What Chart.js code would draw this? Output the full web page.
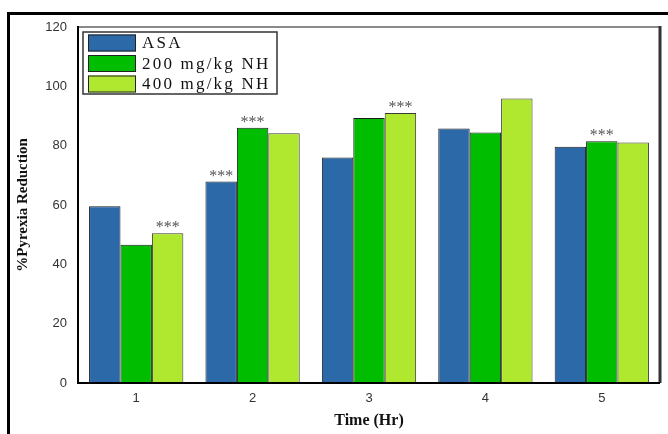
<!DOCTYPE html>
<html>
<head>
<meta charset="utf-8">
<script src="https://cdn.jsdelivr.net/npm/chart.js@4.4.0/dist/chart.umd.min.js"></script>
<style>
  html, body { margin: 0; padding: 0; background: #fff; }
  #wrap { width: 668px; height: 434px; }
</style>
</head>
<body>
<div id="wrap"><canvas id="pyrexiaChart" width="668" height="434"></canvas></div>
<script>
// datos
const timeLabels = ['1', '2', '3', '4', '5'];
const asaValues = [59.6, 67.9, 76.0, 85.8, 79.6];
const nh200Values = [46.6, 86.0, 89.3, 84.4, 81.5];
const nh400Values = [50.5, 84.2, 91.0, 95.9, 81.1];
// marcas de significancia (***)
const asaStars = [false, true, false, false, false];
const nh200Stars = [false, true, false, false, true];
const nh400Stars = [true, false, true, false, false];
const yTicks = [0, 20, 40, 60, 80, 100, 120];

const seriesStars = [asaStars, nh200Stars, nh400Stars];
const sansFont = '"Liberation Sans", Arial, sans-serif';
const serifFont = '"Liberation Serif", "Times New Roman", serif';

// marco exterior y borde del area de grafico
const framePlugin = {
    id: 'frame',
    beforeDraw(chart) {
        const ctx = chart.ctx;
        ctx.save();
        ctx.fillStyle = '#fff';
        ctx.fillRect(0, 0, chart.width, chart.height);
        ctx.strokeStyle = '#000';
        ctx.lineWidth = 3;
        ctx.beginPath();
        ctx.moveTo(668, 13.5);
        ctx.lineTo(8.5, 13.5);
        ctx.lineTo(8.5, 434);
        ctx.stroke();
        ctx.restore();
    },
    afterDatasetsDraw(chart) {
        const ctx = chart.ctx;
        const a = chart.chartArea;
        ctx.save();
        // arriba gris
        ctx.strokeStyle = '#8a8a8a';
        ctx.lineWidth = 2;
        ctx.beginPath();
        ctx.moveTo(a.left, a.top);
        ctx.lineTo(a.right, a.top);
        ctx.stroke();
        // derecha
        ctx.strokeStyle = '#333';
        ctx.lineWidth = 3;
        ctx.beginPath();
        ctx.moveTo(a.right, a.top - 1);
        ctx.lineTo(a.right, a.bottom);
        ctx.stroke();
        // ejes izquierdo e inferior
        ctx.strokeStyle = '#000';
        ctx.lineWidth = 2;
        ctx.beginPath();
        ctx.moveTo(a.left, a.top - 1);
        ctx.lineTo(a.left, a.bottom);
        ctx.lineTo(a.right, a.bottom);
        ctx.stroke();

        // asteriscos sobre las barras
        ctx.fillStyle = '#555';
        ctx.font = '16px ' + serifFont;
        ctx.textAlign = 'center';
        ctx.textBaseline = 'alphabetic';
        seriesStars.forEach((flags, di) => {
            const meta = chart.getDatasetMeta(di);
            flags.forEach((on, i) => {
                if (!on) return;
                const bar = meta.data[i];
                ctx.fillText('***', bar.x, bar.y - 1);
            });
        });

        // leyenda con recuadro
        const lx = a.left + 5, ly = a.top + 5, lw = 194, lh = 62;
        ctx.fillStyle = '#fff';
        ctx.fillRect(lx, ly, lw, lh);
        ctx.strokeStyle = '#333';
        ctx.lineWidth = 1.5;
        ctx.strokeRect(lx, ly, lw, lh);
        ctx.font = '17px ' + serifFont;
        ctx.letterSpacing = '2.2px';
        ctx.textAlign = 'left';
        ctx.textBaseline = 'middle';
        chart.data.datasets.forEach((ds, i) => {
            const ry = ly + 2.5 + i * 20.5;
            ctx.fillStyle = ds.backgroundColor;
            ctx.fillRect(lx + 5, ry, 48, 17);
            ctx.strokeStyle = '#222';
            ctx.lineWidth = 1;
            ctx.strokeRect(lx + 5.5, ry + 0.5, 47, 16);
            ctx.fillStyle = '#111';
            ctx.fillText(ds.label, lx + 59, ry + 9.5);
        });
        ctx.restore();
    }
};

const ctx = document.getElementById('pyrexiaChart').getContext('2d');
new Chart(ctx, {
    type: 'bar',
    data: {
        labels: timeLabels,
        datasets: [{
            label: 'ASA',
            data: asaValues,
            backgroundColor: '#2b69a8',
            borderColor: '#1c1c1c',
            borderWidth: 1
        }, {
            label: '200 mg/kg NH',
            data: nh200Values,
            backgroundColor: '#00bd00',
            borderColor: '#1c1c1c',
            borderWidth: 1
        }, {
            label: '400 mg/kg NH',
            data: nh400Values,
            backgroundColor: '#afe82e',
            borderColor: '#3a3a3a',
            borderWidth: 1
        }]
    },
    options: {
        responsive: false,
        animation: false,
        layout: { padding: { left: 0, top: 27, right: 8, bottom: 0 } },
        datasets: {
            bar: { categoryPercentage: 0.81, barPercentage: 1.0 }
        },
        plugins: {
            legend: { display: false },
            tooltip: { enabled: false }
        },
        scales: {
            x: {
                grid: { display: false, drawTicks: false },
                border: { display: false },
                ticks: {
                    color: '#333',
                    font: { family: sansFont, size: 13 },
                    padding: 8
                },
                title: {
                    display: true,
                    text: 'Time (Hr)',
                    color: '#111',
                    font: { family: serifFont, size: 16, weight: 'bold' },
                    padding: { top: 6 }
                },
                afterFit: s => { s.height = 51; }
            },
            y: {
                min: 0,
                max: 120,
                afterBuildTicks: s => { s.ticks = yTicks.map(v => ({ value: v })); },
                grid: { display: false, drawTicks: false },
                border: { display: false },
                ticks: {
                    color: '#333',
                    font: { family: sansFont, size: 13 },
                    padding: 11
                },
                title: {
                    display: true,
                    text: '%Pyrexia Reduction',
                    color: '#111',
                    font: { family: serifFont, size: 15, weight: 'bold' },
                    padding: { top: 14, bottom: 0 }
                },
                afterFit: s => { s.width = 78; }
            }
        }
    },
    plugins: [framePlugin]
});
</script>
</body>
</html>
